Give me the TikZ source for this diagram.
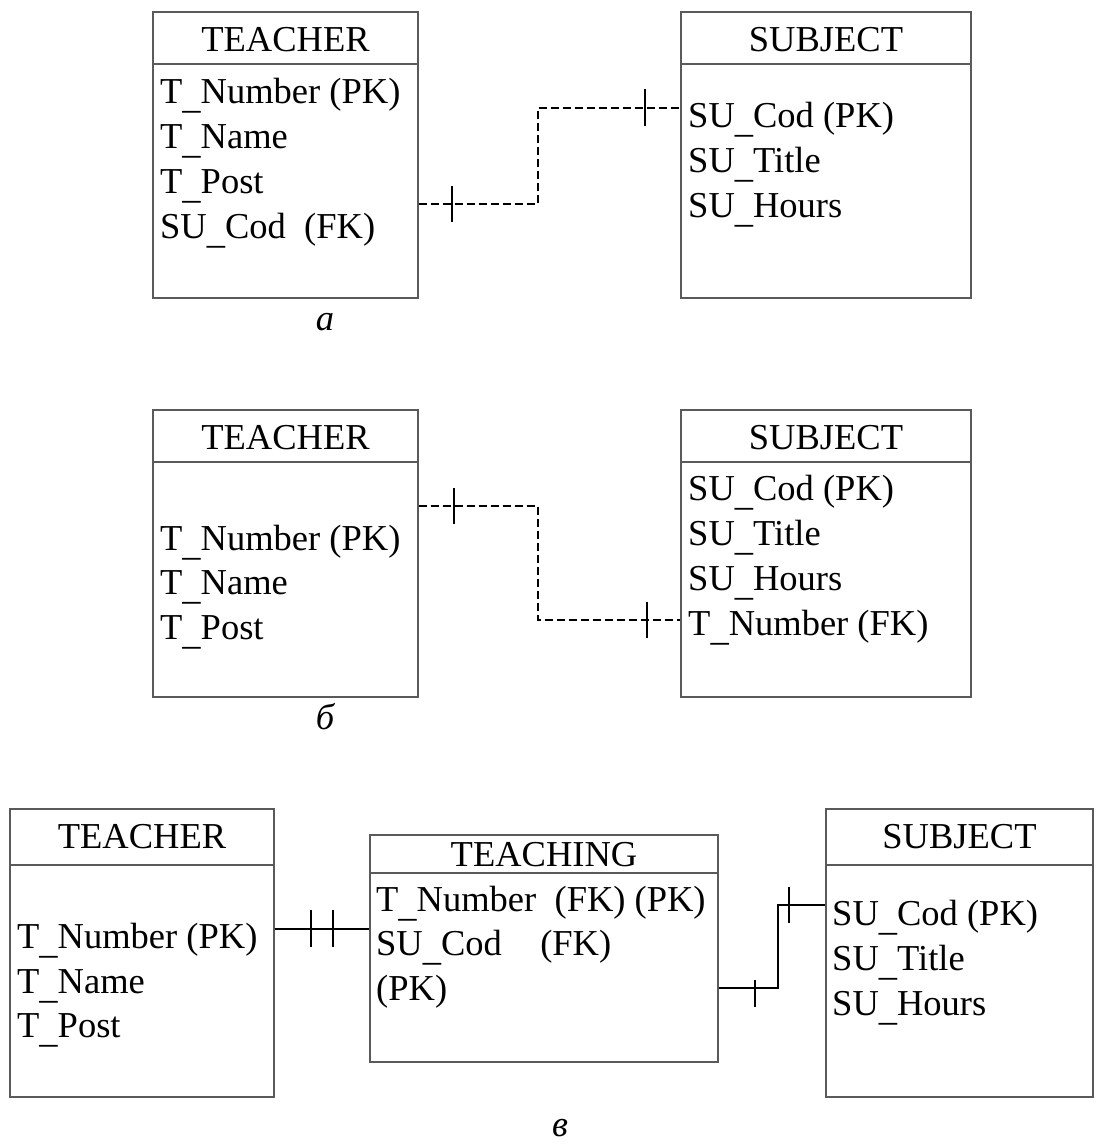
\documentclass[tikz,border=0pt]{standalone}
\usepackage{fontspec}
\setmainfont{Liberation Serif}
\definecolor{boxgray}{HTML}{5A5A5A}
\newcommand{\us}{\raisebox{-0.14em}{\_}}

\begin{document}
\begin{tikzpicture}[
  x=1pt,
  y=-1pt,
  every node/.style={font=\fontsize{36.5}{44}\selectfont, inner sep=0pt, black},
  entity/.style={draw=boxgray, line width=1.2pt, rectangle},
  rule/.style={boxgray, line width=1.2pt},
  field/.style={anchor=base west},
  title/.style={anchor=base},
  link/.style={black, line width=1.2pt, dash pattern=on 8pt off 4pt},
  rel/.style={black, line width=1.2pt},
  tick/.style={black, line width=1.2pt},
  caption/.style={anchor=base, font=\fontsize{36.5}{44}\selectfont\itshape}
]
  \useasboundingbox (0,0) rectangle (1105,1144);

  % ---- (a): the key of SUBJECT kept in TEACHER ----------------------------
  \node[entity, minimum width=265pt, minimum height=286pt] (tchA) at (285.5,155) {};
  \node[entity, minimum width=290pt, minimum height=286pt] (subA) at (826,155) {};
  \draw[rule] (tchA.west |- 0,64) -- (tchA.east |- 0,64);
  \draw[rule] (subA.west |- 0,64) -- (subA.east |- 0,64);

  \node[title] (tchAname) at (285.5,51) {TEACHER};
  \node[field] (tchAnum)  at (160,103) {T\us Number (PK)};
  \node[field] (tchAtnam) at (160,148) {T\us Name};
  \node[field] (tchApost) at (160,193) {T\us Post};
  \node[field] (tchAcod)  at (160,238) {SU\us Cod\ \ (FK)};

  \node[title] (subAname) at (826,51) {SUBJECT};
  \node[field] (subAcod)  at (688,127) {SU\us Cod (PK)};
  \node[field] (subAtit)  at (688,172) {SU\us Title};
  \node[field] (subAhrs)  at (688,217) {SU\us Hours};

  \draw[link] (tchA.east |- 0,204) -- (538,204) -- (538,108) -- (subA.west |- 0,108);
  \draw[tick] (452,186) -- (452,222);
  \draw[tick] (645,89) -- (645,126);

  \node[caption] (capA) at (325,330) {а};

  % ---- (b): the key of TEACHER kept in SUBJECT ----------------------------
  \node[entity, minimum width=265pt, minimum height=287pt] (tchB) at (285.5,553.5) {};
  \node[entity, minimum width=290pt, minimum height=287pt] (subB) at (826,553.5) {};
  \draw[rule] (tchB.west |- 0,462) -- (tchB.east |- 0,462);
  \draw[rule] (subB.west |- 0,462) -- (subB.east |- 0,462);

  \node[title] (tchBname) at (285.5,449) {TEACHER};
  \node[field] (tchBnum)  at (160,550) {T\us Number (PK)};
  \node[field] (tchBtnam) at (160,594) {T\us Name};
  \node[field] (tchBpost) at (160,639) {T\us Post};

  \node[title] (subBname) at (826,449) {SUBJECT};
  \node[field] (subBcod)  at (688,500) {SU\us Cod (PK)};
  \node[field] (subBtit)  at (688,545) {SU\us Title};
  \node[field] (subBhrs)  at (688,590) {SU\us Hours};
  \node[field] (subBnum)  at (688,635) {T\us Number (FK)};

  \draw[link] (tchB.east |- 0,506) -- (538,506) -- (538,620) -- (subB.west |- 0,620);
  \draw[tick] (454,488) -- (454,524);
  \draw[tick] (647,602) -- (647,638);

  \node[caption] (capB) at (325,729) {б};

  % ---- (c): a linking entity between the two ------------------------------
  \node[entity, minimum width=264pt, minimum height=288pt] (tchC) at (142,953) {};
  \node[entity, minimum width=348pt, minimum height=227pt] (lnkC) at (544,948.5) {};
  \node[entity, minimum width=267pt, minimum height=288pt] (subC) at (959.5,953) {};
  \draw[rule] (tchC.west |- 0,865) -- (tchC.east |- 0,865);
  \draw[rule] (lnkC.west |- 0,873) -- (lnkC.east |- 0,873);
  \draw[rule] (subC.west |- 0,865) -- (subC.east |- 0,865);

  \node[title] (tchCname) at (142,848) {TEACHER};
  \node[field] (tchCnum)  at (17,948) {T\us Number (PK)};
  \node[field] (tchCtnam) at (17,993) {T\us Name};
  \node[field] (tchCpost) at (17,1037) {T\us Post};

  \node[title] (lnkCname) at (544,866) {TEACHING};
  \node[field] (lnkCnum)  at (376,911) {T\us Number\ \ (FK) (PK)};
  \node[field] (lnkCcod)  at (376,955) {SU\us Cod\hspace{1.05em}(FK)};
  \node[field] (lnkCpk)   at (376,1000) {(PK)};

  \node[title] (subCname) at (959.5,848) {SUBJECT};
  \node[field] (subCcod)  at (832,925) {SU\us Cod (PK)};
  \node[field] (subCtit)  at (832,970) {SU\us Title};
  \node[field] (subChrs)  at (832,1015) {SU\us Hours};

  \draw[rel] (tchC.east |- 0,929) -- (lnkC.west |- 0,929);
  \draw[tick] (311,910) -- (311,947);
  \draw[tick] (333,910) -- (333,947);
  \draw[rel] (lnkC.east |- 0,988) -- (778,988) -- (778,905) -- (subC.west |- 0,905);
  \draw[tick] (755,980) -- (755,1007);
  \draw[tick] (789,887) -- (789,923);

  \node[caption] (capC) at (560,1136) {в};

\end{tikzpicture}
\end{document}
